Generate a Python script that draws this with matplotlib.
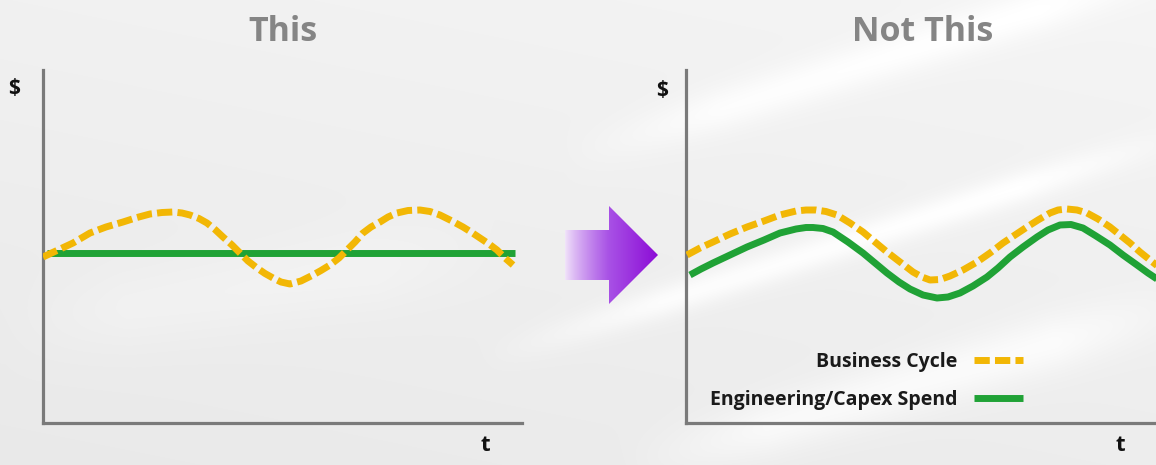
import numpy as np
import matplotlib
matplotlib.use("Agg")
import matplotlib.pyplot as plt
from matplotlib.patches import Polygon

# ---------------- data ----------------
# Left panel ("This"): t in arbitrary units, $ in arbitrary units
left_t_cycle = [0, 15, 30, 47, 63, 80, 94, 107, 119, 130, 139, 147, 156, 164,
                172, 180, 189, 197, 205, 214, 222, 230, 238, 247, 258, 270,
                278, 287, 296, 304, 312, 320, 328, 337, 345, 354, 365, 377,
                387, 397, 409, 420, 428, 437, 446, 454, 462, 470]
left_cycle = [166, 173, 180, 190, 196, 201, 205.5, 209, 210.5, 211, 210, 208,
              204.5, 200, 193.5, 186, 178, 170, 162, 155, 149.5, 145, 141,
              139, 142, 148, 152.5, 158, 165, 173, 181, 190, 196, 201, 206,
              210, 212.5, 213, 211.5, 208, 202, 196, 191, 185, 179, 173, 165,
              158]
left_t_spend = [4, 472]
left_spend = [170, 170]

# Right panel ("Not This")
right_t_cycle = [1, 14, 27, 44, 61, 78, 94, 110, 120, 130, 140, 151, 164, 177,
                 189, 201, 214, 227, 236, 244, 254, 264, 277, 291, 304, 317,
                 329, 341, 352, 364, 372, 381, 391, 401, 412, 424, 434, 444,
                 454, 464, 474]
right_cycle = [168, 175, 181, 189, 196, 202, 208, 212, 213, 213, 211.5, 208,
               200, 191, 181, 171, 161, 151, 146, 143, 143.5, 147, 153, 161,
               170, 180, 188, 196, 203, 210, 213, 214, 213, 210, 204, 196, 188,
               180, 171, 163, 155]
right_t_spend = [4, 15, 27, 44, 61, 78, 94, 110, 120, 127, 137, 147, 162, 177,
                 189, 201, 213, 224, 237, 251, 262, 274, 287, 301, 312, 324,
                 337, 351, 362, 374, 385, 397, 410, 424, 437, 451, 462, 474]
right_spend = [148, 154, 160, 168, 176, 183, 190, 194, 195.5, 195.5, 194.5,
               191, 181, 170, 160, 150, 141, 134, 128, 125, 126, 130, 137, 146,
               155, 166, 176, 186, 193, 198, 198.5, 195, 187, 178, 168, 158,
               150, 142]

titles = ["This", "Not This"]
series_labels = ["Business Cycle", "Engineering/Capex Spend"]
y_label = "$"
x_label = "t"

# ---------------- style ----------------
W, H = 1156, 465
YELLOW = "#F2B705"
GREEN = "#20A236"
AXIS_GRAY = "#7A7A7A"
TITLE_GRAY = "#858585"
FONT = ["Open Sans", "DejaVu Sans"]

fig = plt.figure(figsize=(W / 100, H / 100), dpi=100)

# background (decorative)
bg = fig.add_axes([0, 0, 1, 1], zorder=0)
bg.set_xlim(0, W)
bg.set_ylim(H, 0)
bg.axis("off")
yy, xx = np.mgrid[0:H, 0:W].astype(float)
img = 0.915 + 0.03 * (1 - yy / H) + 0.015 * (xx / W)


def band(x0, y0, x1, y1, width, amp):
    dx, dy = x1 - x0, y1 - y0
    n = np.hypot(dx, dy)
    d = ((xx - x0) * dy - (yy - y0) * dx) / n
    s = ((xx - x0) * dx + (yy - y0) * dy) / n / n
    fade = np.clip(np.minimum(s, 1 - s) * 4, 0, 1)
    return amp * np.exp(-(d / width) ** 2) * fade


img += band(480, 360, 1200, 130, 16, 0.055)
img += band(560, 160, 1200, -40, 22, 0.045)
img += band(620, 470, 1200, 300, 28, 0.05)
img += band(0, 330, 500, 250, 40, 0.02)
img = np.clip(img, 0, 1)
bg.imshow(np.dstack([img, img, img]), extent=(0, W, H, 0), aspect="auto",
          interpolation="bilinear")

# arrow with gradient
arrow_pts = [(565, 230), (609, 230), (609, 206), (658, 255), (609, 304),
             (609, 280), (565, 280)]
poly = Polygon(arrow_pts, closed=True, facecolor="none", edgecolor="none")
bg.add_patch(poly)
gx = np.linspace(0, 1, 200)
c_left = np.array([0.95, 0.90, 0.98])
c_mid = np.array([0.66, 0.32, 0.90])
c_right = np.array([0.55, 0.05, 0.84])
cols = np.where(gx[:, None] < 0.47,
                c_left + (c_mid - c_left) * (gx[:, None] / 0.47) ** 0.8,
                c_mid + (c_right - c_mid) * ((gx[:, None] - 0.47) / 0.53))
grad = np.tile(cols[None, :, :], (10, 1, 1))
im = bg.imshow(grad, extent=(565, 658, 304, 206), aspect="auto",
               interpolation="bilinear")
im.set_clip_path(poly)


def make_panel(rect, xmax, t_cycle, cycle, t_spend, spend, title):
    ax = fig.add_axes(rect, zorder=2)
    ax.patch.set_alpha(0)
    ax.set_xlim(0, xmax)
    ax.set_ylim(0, 353)
    for s in ["top", "right"]:
        ax.spines[s].set_visible(False)
    for s in ["left", "bottom"]:
        ax.spines[s].set_color(AXIS_GRAY)
        ax.spines[s].set_linewidth(2.3)
    ax.set_xticks([])
    ax.set_yticks([])
    l2, = ax.plot(t_spend, spend, color=GREEN, lw=5.0, solid_capstyle="butt",
                  solid_joinstyle="round", label=series_labels[1], zorder=3)
    l1, = ax.plot(t_cycle, cycle, color=YELLOW, lw=5.0, dashes=(2.2, 0.75),
                  dash_capstyle="butt", dash_joinstyle="round",
                  label=series_labels[0], zorder=4)
    ax.set_title(title, fontsize=24.5, fontweight="bold", color=TITLE_GRAY,
                 family=FONT, pad=21)
    return ax, l1, l2


axL, _, _ = make_panel([43 / W, (H - 423) / H, 479 / W, 353 / H], 479,
                       left_t_cycle, left_cycle, left_t_spend, left_spend,
                       titles[0])
axR, h1, h2 = make_panel([686 / W, (H - 423) / H, 474 / W, 353 / H], 474,
                         right_t_cycle, right_cycle, right_t_spend,
                         right_spend, titles[1])

# axis letters
for (px, py) in [(14, 88), (662, 90)]:
    fig.text(px / W, 1 - py / H, y_label, fontsize=15, fontweight="bold",
             family=FONT, ha="center", va="center", color="#111111")
for (px, py) in [(485, 445), (1120, 445)]:
    fig.text(px / W, 1 - py / H, x_label, fontsize=16, fontweight="bold",
             family=FONT, ha="center", va="center", color="#111111")

leg = axR.legend(handles=[h1, h2], loc="center right",
                 bbox_to_anchor=(1023 / W, 1 - 381 / H),
                 bbox_transform=fig.transFigure, markerfirst=False,
                 frameon=False, borderpad=0, borderaxespad=0,
                 handlelength=2.5, handletextpad=0.85, labelspacing=0.95,
                 prop={"family": FONT, "weight": "bold", "size": 14})
for t in leg.get_texts():
    t.set_color("#1a1a1a")

fig.savefig("out.png", dpi=100)
